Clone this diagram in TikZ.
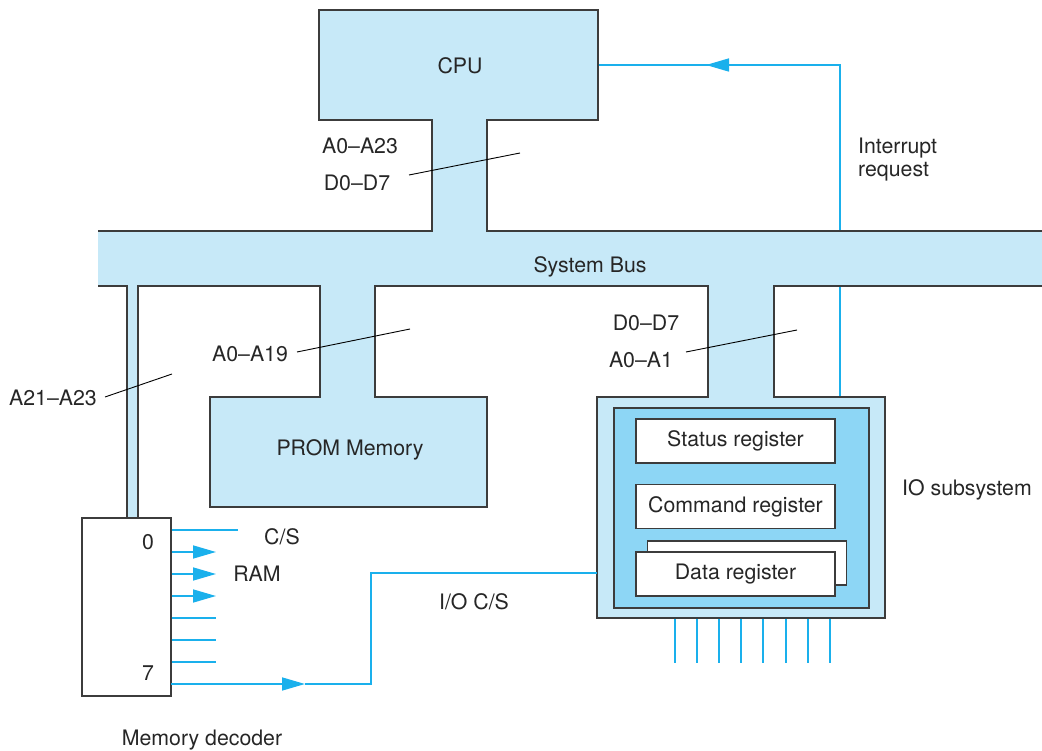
\documentclass[tikz,border=0pt]{standalone}
\usepackage{fontspec}
\setmainfont{TeX Gyre Heros}
\usetikzlibrary{arrows.meta}
\definecolor{lblue}{HTML}{C7E9F8}
\definecolor{mblue}{HTML}{8DD6F5}
\definecolor{cyanl}{HTML}{1AB0EC}
\definecolor{edgec}{HTML}{3C3C3C}
\begin{document}
\begin{tikzpicture}[x=1pt,y=-1pt,
  every node/.style={font=\fontsize{21.3}{25}\selectfont, text=black!85, inner sep=0pt},
  outline/.style={draw=edgec, line width=1.4pt, line join=miter},
  sig/.style={draw=cyanl, line width=1.6pt},
  tipa/.style={-{Triangle[length=23pt,width=13pt]}},
  leader/.style={draw=black, line width=0.9pt},
  regbox/.style={draw=edgec, line width=1.3pt, fill=white, minimum width=199pt, minimum height=44pt}
]
\useasboundingbox (0,0) rectangle (1042,751);

% named coordinates
\coordinate (cpuR) at (598,65);
\coordinate (intMid) at (706,65);
\coordinate (intCorner) at (840,65);
\coordinate (ioTop) at (840,397);

% interrupt request line (behind bus)
\draw[sig] (ioTop) -- (intCorner) -- (intMid);
\draw[sig, tipa] (intCorner) -- (intMid);
\draw[sig] (intMid) -- (cpuR);

% merged light blue shape
\fill[lblue] (98,231) -- (432,231) -- (432,120) -- (319,120) -- (319,10) -- (598,10) -- (598,120) -- (487,120) -- (487,231) -- (1042,231) -- (1042,286) -- (774,286) -- (774,397) -- (885,397) -- (885,618) -- (597,618) -- (597,397) -- (708,397) -- (708,286) -- (375,286) -- (375,397) -- (487,397) -- (487,507) -- (210,507) -- (210,397) -- (320,397) -- (320,286) -- (138,286) -- (138,518) -- (127,518) -- (127,286) -- (98,286) -- cycle;

\draw[outline] (98,231) -- (432,231) -- (432,120) -- (319,120) -- (319,10) -- (598,10) -- (598,120) -- (487,120) -- (487,231) -- (1042,231);
\draw[outline] (1042,286) -- (774,286) -- (774,397) -- (885,397) -- (885,618) -- (597,618) -- (597,397) -- (708,397) -- (708,286) -- (375,286) -- (375,397) -- (487,397) -- (487,507) -- (210,507) -- (210,397) -- (320,397) -- (320,286) -- (138,286) -- (138,518);
\draw[outline] (127,518) -- (127,286) -- (98,286);

% IO inner box and registers
\draw[outline, fill=mblue] (614,408) rectangle (869,608);
\node[regbox] (status) at (735.5,441) {Status register};
\node[regbox] (command) at (735.5,506.5) {Command register};
\node[regbox] (databack) at (747,563) {};
\node[regbox] (data) at (735.5,574) {Data register};

% memory decoder
\node[draw=edgec, line width=1.4pt, fill=white, minimum width=89pt, minimum height=178pt] (dec) at (126.5,607) {};
\node (d0) at (148,542) {0};
\node (d7) at (148,673) {7};

\coordinate (o1) at (238,530);
\draw[sig] (dec.east |- o1) -- (o1);
\foreach \yy in {552,574,596}{
  \coordinate (oa) at (216,\yy);
  \draw[sig, tipa] (dec.east |- oa) -- (oa);
}
\foreach \yy in {618,640,662}{
  \coordinate (ob) at (216,\yy);
  \draw[sig] (dec.east |- ob) -- (ob);
}
\coordinate (o8) at (171,684);
\coordinate (o8m) at (305,684);
\coordinate (o8c) at (371,684);
\coordinate (o8u) at (371,573);
\coordinate (ioL) at (597,573);
\draw[sig, tipa] (o8) -- (o8m);
\draw[sig] (o8m) -- (o8c) -- (o8u) -- (ioL);

% IO bottom lines
\foreach \xx in {675,697,719,741,763,786,808,830}{
  \coordinate (ta) at (\xx,619);
  \coordinate (tb) at (\xx,663);
  \draw[draw=cyanl, line width=1.3pt] (ta) -- (tb);
}

% texts
\node (cpu) at (460,66) {CPU};
\node (sysbus) at (590,267) {System Bus};
\node (prom) at (350,450) {PROM Memory};
\node[anchor=west] (iosub) at (902,490) {IO subsystem};
\node[anchor=west] (intr1) at (858,148) {Interrupt};
\node[anchor=west] (intr2) at (858,172) {request};
\node (cs) at (282,537) {C/S};
\node (ram) at (257,574) {RAM};
\node (iocs) at (474,602) {I/O C/S};
\node (memdec) at (202,740) {Memory decoder};

\node (a023) at (360,146) {A0--A23};
\node (d07a) at (357,183) {D0--D7};
\coordinate (l1a) at (409,175);
\coordinate (l1b) at (520,153);
\draw[leader] (l1a) -- (l1b);

\node (a019) at (250,354) {A0--A19};
\coordinate (l2a) at (297,352);
\coordinate (l2b) at (410,329);
\draw[leader] (l2a) -- (l2b);

\node (d07b) at (646,323) {D0--D7};
\node (a01) at (641,360) {A0--A1};
\coordinate (l3a) at (686,352);
\coordinate (l3b) at (797,330);
\draw[leader] (l3a) -- (l3b);

\node (a2123) at (53,398) {A21--A23};
\coordinate (l4a) at (105,397);
\coordinate (l4b) at (172,374);
\draw[leader] (l4a) -- (l4b);

\end{tikzpicture}
\end{document}
